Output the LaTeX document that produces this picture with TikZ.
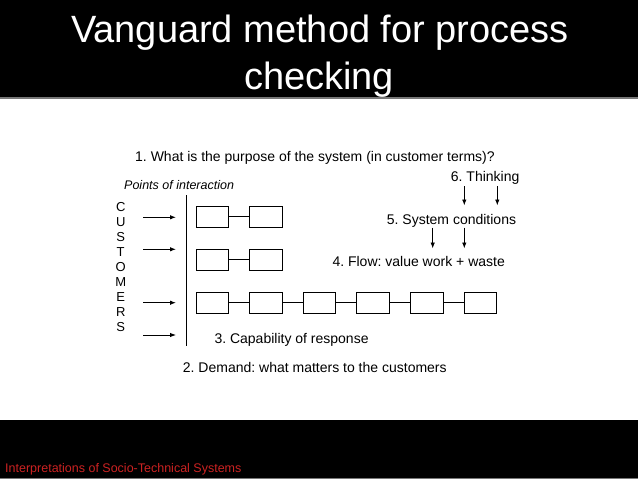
\documentclass[tikz,border=0pt]{standalone}
\usepackage{fontspec}
\setmainfont{Liberation Sans}
\usetikzlibrary{arrows.meta}
\frenchspacing
\definecolor{footred}{RGB}{204,34,34}
\definecolor{bandline}{RGB}{120,120,120}
\tikzset{
  body/.style={inner sep=0pt, anchor=base west, font=\fontsize{14}{16}\selectfont\frenchspacing},
  procbox/.style={draw, line width=0.9pt, minimum width=32.5pt, minimum height=21pt, inner sep=0pt},
  link/.style={line width=0.9pt},
  arr/.style={line width=0.9pt, -{Latex[length=6pt,width=4.5pt]}},
  letter/.style={inner sep=0pt, anchor=base, font=\fontsize{13}{15}\selectfont}
}
\begin{document}
\begin{tikzpicture}[x=1pt,y=-1pt]
\useasboundingbox (0,0) rectangle (638,479);
\fill[white] (0,0) rectangle (638,479);
% title band
\fill[black] (0,0) rectangle (638,97.5);
\draw[bandline, line width=1.2pt] (0,98) -- (638,98);
\node[inner sep=0pt, anchor=base, text=white, font=\fontsize{38}{47}\selectfont] (title1) at (320,42) {Vanguard method for process};
\node[inner sep=0pt, anchor=base, text=white, font=\fontsize{38}{47}\selectfont] (title2) at (319,89) {checking};
% footer band
\fill[black] (0,420) rectangle (638,477.5);
\draw[bandline, line width=1pt] (0,478.2) -- (638,478.2);
\node[inner sep=0pt, anchor=base west, text=footred, font=\fontsize{12.5}{14}\selectfont] (foot) at (5,472) {Interpretations of Socio-Technical Systems};
% texts
\node[body] (q1) at (135,161) {1. What is the purpose of the system (in customer terms)?};
\node[body] (q6) at (450.7,181) {6. Thinking};
\node[inner sep=0pt, anchor=base west, font=\fontsize{12.5}{14}\selectfont\itshape] (poi) at (124,189.5) {Points of interaction};
\node[body] (q5) at (386.7,224.3) {5. System conditions};
\node[body] (q4) at (332.3,266.7) {4. Flow: value work + waste};
\node[body] (q3) at (214.3,343.3) {3. Capability of response};
\node[body] (q2) at (182.7,372) {2. Demand: what matters to the customers};
% CUSTOMERS
\foreach \l [count=\i from 0] in {C,U,S,T,O,M,E,R,S} {
  \node[letter] (cust\i) at (120.7,{211.7+14.96*\i}) {\l};
}
% customer arrows
\foreach \yy [count=\i] in {217.3,249.3,302.7,335} {
  \coordinate (ca\i) at (143,\yy);
  \coordinate (cb\i) at (176,\yy);
  \draw[arr] (ca\i) -- (cb\i);
}
% points of interaction line
\coordinate (vt) at (186.7,195);
\coordinate (vb) at (186.7,346);
\draw[link] (vt) -- (vb);
% boxes
\node[procbox] (r1b1) at (212.5,216.7) {};
\node[procbox] (r1b2) at (266.1,216.7) {};
\draw[link] (r1b1.east) -- (r1b2.west);
\node[procbox] (r2b1) at (212.5,259.5) {};
\node[procbox] (r2b2) at (266.1,259.5) {};
\draw[link] (r2b1.east) -- (r2b2.west);
\foreach \i in {0,...,5} {
  \node[procbox] (r3b\i) at ({212.5+53.55*\i},302.8) {};
}
\foreach \i [evaluate=\i as \j using int(\i+1)] in {0,...,4} {
  \draw[link] (r3b\i.east) -- (r3b\j.west);
}
% thinking arrows
\coordinate (ta1) at (464.3,186);
\coordinate (tb1) at (464.3,205.5);
\coordinate (ta2) at (497.3,186);
\coordinate (tb2) at (497.3,205.5);
\draw[arr] (ta1) -- (tb1);
\draw[arr] (ta2) -- (tb2);
% system conditions arrows
\coordinate (sa1) at (432.7,227.7);
\coordinate (sb1) at (432.7,248.5);
\coordinate (sa2) at (464.3,227.7);
\coordinate (sb2) at (464.3,248.5);
\draw[arr] (sa1) -- (sb1);
\draw[arr] (sa2) -- (sb2);
\end{tikzpicture}
\end{document}
